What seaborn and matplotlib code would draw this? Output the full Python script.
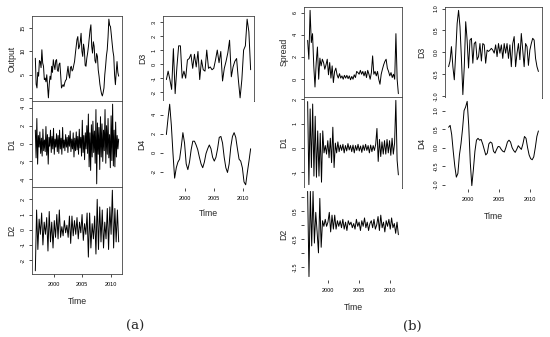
import numpy as np
import matplotlib
matplotlib.use("Agg")
import matplotlib.pyplot as plt
import seaborn as sns

# ---------------- data ----------------
t_start, t_end = 1996.8, 2011.4
x_ticks = [2000, 2005, 2010]
x_tick_labels = ["2000", "2005", "2010"]

output = [8.5, 3.0, 2.2, 5.5, 4.7, 8.0, 7.8, 6.5, 10.3, 7.5, 6.8, 4.0, 4.3, 3.5, 5.0, 2.5,
          0.1, 3.0, 4.7, 4.0, 6.8, 5.5, 8.2, 7.0, 6.1, 8.0, 8.2, 6.0, 5.7, 7.2, 7.5, 5.0,
          2.2, 2.6, 2.9, 2.5, 3.3, 3.8, 4.0, 5.5, 6.8, 5.0, 4.3, 6.5, 6.8, 5.8, 6.1, 7.0,
          7.8, 9.5, 11.0, 12.5, 13.1, 10.5, 11.0, 12.0, 13.8, 10.0, 8.9, 11.5, 10.3, 7.0,
          6.8, 8.5, 9.6, 11.0, 12.8, 14.5, 15.6, 11.0, 9.6, 12.0, 11.0, 8.0, 7.5, 9.5, 8.9,
          6.0, 4.7, 3.0, 1.9, 1.0, 0.5, 1.2, 2.2, 5.0, 6.8, 9.0, 10.3, 13.0, 16.8, 15.5,
          15.2, 13.5, 11.7, 10.0, 8.9, 5.0, 2.9, 5.5, 7.8, 5.5, 4.7]

d1_a = [1.5, -1.6, 2.8, -2.3, 0.9, -0.4, 1.3, -1.1, 0.6, -1.4, 1.6, -0.8, 0.4, -0.9, 1.9,
        -1.3, 1.0, -2.3, 0.7, -0.3, 1.5, -1.0, 0.8, -0.6, 1.7, -1.2, 0.5, -0.4, 1.1, -0.9,
        0.9, -1.1, 1.5, -0.6, 0.6, -1.2, 1.8, -0.5, 0.4, -0.8, 1.0, -0.4, 0.7, -1.0, 0.9,
        -0.3, 1.4, -0.9, 0.5, -0.6, 1.2, -1.5, 0.6, -0.8, 1.3, -0.7, 0.8, -1.2, 1.6, -0.5,
        0.7, -1.4, 2.6, -1.0, 0.9, -1.8, 1.2, -0.6, 2.0, -1.1,
        3.3, -2.6, 1.2, -3.0, 2.1, -1.5, 2.5, -1.0, 1.4, -2.2, 3.8, -4.5, 2.3, -1.2, 1.8,
        -2.9, 3.0, -1.5, 2.2, -2.0, 1.5, -0.8, 3.8, -2.2, 2.0, -1.2, 2.8, -1.6, 1.0, -2.7,
        3.1, -1.9, 4.4, -2.5, 1.5, -2.6, 2.4, -1.5, 0.9, -0.6, 0.5]

d2_a = [-2.7, 1.3, -1.3, 0.7, -0.3, 1.1, -1.0, 0.5, -0.3, 0.8, -1.4, 1.2, -0.8, 0.5, -1.2,
        0.6, -0.5, 1.0, -0.6, 1.3, -0.5, 0.2, -0.4, 0.6, -0.2, 0.3, -0.5, 0.9, -0.9, 0.9,
        -0.4, 0.6, -0.3, 0.8, -0.6, 0.5, -0.2, 1.0, -0.7, 0.4, -0.3, 1.1, -1.8, 1.1, -1.2,
        0.4, -0.6, 0.9, -1.6, 2.0, -1.3, 1.5, -0.8, 1.3, -1.2, 0.5, -0.6, 1.4, -1.3, 1.5,
        -0.3, 2.6, -1.2, 1.4, -0.8, 1.3, -0.8]

d3_a = [-1.1, -0.5, -1.1, -1.8, 1.1, -2.1, -0.2, 1.3, 1.3, -1.0, -0.5, -1.0, 0.3, 0.4, 0.7,
        -0.3, 0.7, -0.2, 0.9, -1.1, 0.3, -0.4, -0.5, 1.0, -0.3, -0.2, -0.4, -0.3, 0.3, 1.0,
        0.1, 0.9, -1.2, -0.3, 0.2, 0.8, 1.7, -0.9, -0.2, 0.2, 0.4, -1.1, -2.4, -1.1, 1.0,
        1.3, 3.2, 2.3, -0.4]

d4_a = [1.9, 3.6, 5.1, 2.9, -0.1, -2.7, -1.6, -1.0, -0.7, 0.6, 2.1, 1.0, -1.2, -1.8, -1.0,
        0.3, 1.2, 1.2, 0.8, 0.3, -0.5, -1.2, -1.6, -1.0, -0.1, 0.4, 0.8, 0.4, -0.5, -0.9,
        -0.5, 0.4, 1.6, 1.7, 1.0, -0.5, -1.6, -2.1, -1.2, 0.6, 1.7, 2.1, 1.6, 0.4, -0.7,
        -0.9, -1.6, -3.1, -3.4, -2.1, -0.9, 0.4]

spread = [3.5, 1.8, 6.2, 3.3, 4.1, 1.2, -0.7, 1.5, 2.9, 0.0, 1.9, 1.2, 1.8, 1.5, 0.9, 1.3,
          1.8, 0.4, 1.5, 0.1, 1.2, -0.3, 0.7, 1.0, 0.4, 0.1, 0.5, 0.1, 0.3, 0.0, 0.35, 0.1,
          0.35, 0.05, 0.3, -0.05, 0.25, 0.0, 0.4, 0.15, 0.7, 0.6, 0.45, 0.8, 0.45, 0.7, 0.3,
          0.7, 0.15, 0.8, 0.45, 0.0, 0.6, 2.1, 0.45, 0.7, 0.3, 0.7, 0.0, -0.45, 0.45, 0.9,
          1.3, 1.6, 1.8, 1.0, 0.7, 0.3, 0.6, 0.15, 0.45, 0.0, 4.1, 0.0, -1.3]

d1_b = [1.9, -1.5, 1.6, -0.8, 1.8, -1.15, 1.3, -1.2, 0.7, -1.15, 0.6, -1.4, 0.7, -0.2, 0.1,
        -0.25, 0.3, -0.4, 0.4, -0.6, 0.85, -0.8, 0.2, -0.2, 0.25,
        -0.15, 0.12, -0.1, 0.15, -0.2, 0.1, -0.12, 0.18, -0.08, 0.1, -0.15, 0.12, -0.2, 0.1,
        -0.1, 0.15, -0.12, 0.08, -0.18, 0.12, -0.1, 0.15, -0.1, 0.1, -0.2, 0.12, -0.15, 0.1,
        -0.1, 0.15,
        0.8, -0.55, 0.35, -0.35, 0.25, -0.25, 0.3, -0.25, 0.35, -0.2, 0.3, -0.3, 0.4, -0.25,
        0.2, 1.95, -0.5, -1.1]

d2_b = [1.2, -1.85, 1.2, -0.75, 1.2, -0.65, 0.45, -0.25, -1.0, 0.95, -0.8, 0.15, -0.05, 0.2,
        -0.05, 0.1, 0.45, -0.25, 0.35, -0.15, 0.35, -0.15, 0.15, -0.05, 0.15,
        -0.1, 0.2, -0.15, 0.1, -0.2, 0.15, 0.0, 0.1, -0.1, 0.05, -0.15, 0.2, -0.05, 0.1,
        -0.2, 0.15, -0.05, 0.25, -0.1, 0.1, -0.2, 0.05, 0.15, -0.1, 0.2, -0.15, 0.0, 0.3,
        -0.2, 0.35, -0.1, 0.1, -0.25, 0.15, -0.05, 0.2, -0.15, 0.25, -0.1, 0.05, -0.3, 0.1,
        -0.35]

d3_b = [-0.33, -0.2, 0.13, -0.33, -0.63, -0.02, 0.66, 0.96, 0.58, -0.14, -0.97, -0.33, 0.7,
        0.28, -0.36, 0.28, 0.32, -0.25, 0.2, 0.24, -0.17, -0.1, 0.2, -0.2, 0.2, 0.17, -0.25,
        0.05, 0.02, 0.05, 0.09, 0.05, -0.02, 0.17, -0.1, 0.2, -0.02, 0.17, -0.14, 0.2, -0.02,
        0.2, -0.14, 0.17, -0.33, 0.2, 0.36, -0.33, -0.02, 0.2, -0.17, 0.43, 0.05, -0.33, 0.2,
        0.13, -0.3, 0.05, 0.2, 0.32, 0.28, -0.14, -0.33, -0.44]

d4_b = [0.55, 0.6, 0.35, -0.1, -0.5, -0.8, -0.7, -0.2, 0.1, 0.5, 1.0, 1.1, 1.25, 0.6, -0.4,
        -1.03, -0.6, -0.1, 0.2, 0.25, 0.2, 0.22, 0.1, -0.05, -0.2, -0.15, 0.1, 0.15, 0.12,
        -0.1, -0.15, -0.05, 0.03, 0.02, -0.05, -0.1, -0.12, 0.0, 0.15, 0.2, 0.15, 0.0, -0.08,
        -0.13, -0.05, 0.05, 0.0, -0.05, 0.1, 0.3, 0.25, 0.0, -0.2, -0.3, -0.33, -0.25, 0.0,
        0.3, 0.45]

# ---------------- style ----------------
sns.set_style("white")
plt.rcParams['font.family'] = ['Liberation Sans', 'DejaVu Sans']

W, H = 550, 337
fig = plt.figure(figsize=(W / 100, H / 100), dpi=100)


def make_ax(x0, x1, y0, y1):
    return fig.add_axes([x0 / W, 1 - y1 / H, (x1 - x0) / W, (y1 - y0) / H])


def draw(rect, values, label, yticks, ylabels=None, box=True, bottom=False,
         lab_off=20, time_off=27):
    x0, x1, y0, y1 = rect
    ax = make_ax(*rect)
    t = np.linspace(t_start, t_end, len(values))
    sns.lineplot(x=t, y=values, ax=ax, color='black', linewidth=0.7,
                 estimator=None, sort=False)
    span = t_end - t_start
    ax.set_xlim(t_start - 0.04 * span, t_end + 0.04 * span)
    vmin, vmax = min(values), max(values)
    pad = 0.04 * (vmax - vmin)
    ax.set_ylim(vmin - pad, vmax + pad)
    ax.set_yticks(yticks)
    ax.set_yticklabels(ylabels if ylabels is not None else [str(v) for v in yticks])
    for lab in ax.get_yticklabels():
        lab.set_rotation(90)
        lab.set_verticalalignment('center')
    ax.tick_params(axis='y', direction='out', length=2.2, width=0.5, pad=2.2,
                   labelsize=4.0, left=True, colors='black')
    if bottom:
        ax.set_xticks(x_ticks)
        ax.set_xticklabels(x_tick_labels)
        ax.tick_params(axis='x', direction='out', length=2.2, width=0.5, pad=3.5,
                       labelsize=4.0, bottom=True, colors='black')
        ax.set_xlabel("Time", fontsize=6.3)
        ax.xaxis.label.set_va('center')
        ax.xaxis.set_label_coords(0.5, -time_off / (y1 - y0))
    else:
        ax.set_xticks([])
        ax.set_xlabel("")
    ax.set_ylabel(label, fontsize=6.3)
    ax.yaxis.label.set_va('center')
    ax.yaxis.set_label_coords(-lab_off / (x1 - x0), 0.5)
    for s in ax.spines.values():
        s.set_visible(box)
        s.set_linewidth(0.6)
        s.set_color('#444444')
    ax.set_facecolor('white')
    return ax


# (a) left column
draw((32, 122, 16, 101), output, "Output", [0, 5, 10, 15])
draw((32, 122, 101, 187), d1_a, "D1", [-4, -2, 0, 2, 4])
draw((32, 122, 187, 274), d2_a, "D2", [-2, -1, 0, 1, 2], bottom=True)
# (a) right column
draw((163, 254, 16, 101), d3_a, "D3", [-2, -1, 0, 1, 2, 3], lab_off=20)
draw((163, 254, 101, 188), d4_a, "D4", [-2, 0, 2, 4], box=False, bottom=True,
     lab_off=21, time_off=25)
# (b) left column
draw((304, 402, 7, 97), spread, "Spread", [0, 2, 4, 6])
draw((304, 402, 97, 188), d1_b, "D1", [-1, 0, 1, 2])
draw((304, 402, 188, 280), d2_b, "D2", [-1.5, -1.0, -0.5, 0.0, 0.5, 1.0],
     ylabels=["-1.5", "", "-0.5", "", "0.5", ""], box=False, bottom=True)
# (b) right column
draw((445, 542, 7, 98), d3_b, "D3", [-1.0, -0.5, 0.0, 0.5, 1.0], lab_off=23)
draw((445, 542, 98, 189), d4_b, "D4", [-1.0, -0.5, 0.0, 0.5, 1.0], box=False,
     bottom=True, lab_off=23)

fig.text(135 / W, 1 - 326 / H, "(a)", ha='center', va='center', fontsize=9.5,
         family=['DejaVu Serif', 'Liberation Serif'])
fig.text(412 / W, 1 - 326 / H, "(b)", ha='center', va='center', fontsize=9.5,
         family=['DejaVu Serif', 'Liberation Serif'])

fig.savefig("out.png", dpi=100, facecolor='white')
